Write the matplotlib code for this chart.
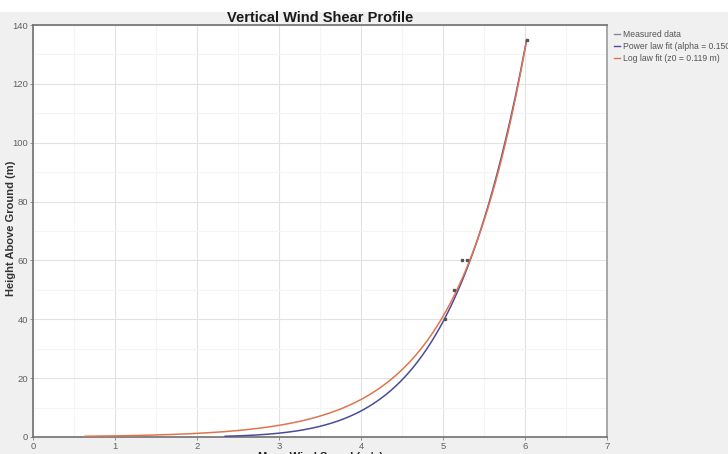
import numpy as np
import matplotlib
matplotlib.use("Agg")
import matplotlib.pyplot as plt
from matplotlib.lines import Line2D
from matplotlib.patches import Rectangle

plt.rcParams["font.family"] = ["Liberation Sans", "DejaVu Sans"]

# Measured mean wind speeds at each sensor height
heights_m = [40, 50, 60, 60, 135]
speeds_ms = [5.02, 5.13, 5.23, 5.29, 6.02]

# Fitted profile parameters
alpha = 0.15          # power-law shear exponent
z0 = 0.119            # log-law roughness length (m)
z_ref = 135.0         # reference height (m)
v_ref = 6.02          # speed at reference height (m/s)
z_min = 0.25          # lowest height drawn for the fitted curves

title = "Vertical Wind Shear Profile"
xlabel = "Mean Wind Speed (m/s)"
ylabel = "Height Above Ground (m)"
legend_labels = ["Measured data",
                 "Power law fit (alpha = 0.150)",
                 "Log law fit (z0 = 0.119 m)"]
xticks = [0, 1, 2, 3, 4, 5, 6, 7]
yticks = [0, 20, 40, 60, 80, 100, 120, 140]

W, H = 728, 454
fig = plt.figure(figsize=(W / 100, H / 100), dpi=100, facecolor="white")
fig.patches.append(Rectangle((0, 0), 1, 1 - 12 / H, transform=fig.transFigure,
                             facecolor="#f0f0f0", edgecolor="none", zorder=-10))

ax = fig.add_axes([33 / W, 17 / H, (607 - 33) / W, (437 - 25) / H])
ax.set_facecolor("white")

z = np.geomspace(z_min, z_ref, 400)
v_power = v_ref * (z / z_ref) ** alpha
v_log = v_ref * np.log(z / z0) / np.log(z_ref / z0)

ax.plot(v_power, z, color="#4b4b9c", lw=1.1, zorder=3)
ax.plot(v_log, z, color="#e2734f", lw=1.1, zorder=4)
ax.plot(speeds_ms, heights_m, linestyle="none", marker="s", ms=1.8,
        color="#555555", zorder=5)

ax.set_xlim(0, 7)
ax.set_ylim(0, 140)
ax.set_xticks(xticks)
ax.set_yticks(yticks)
ax.set_xticks(np.arange(0, 7.01, 0.5), minor=True)
ax.set_yticks(np.arange(0, 140.1, 10), minor=True)
ax.grid(which="major", color="#e2e2e2", lw=0.8)
ax.grid(which="minor", color="#f4f4f4", lw=0.8)
ax.set_axisbelow(True)
ax.tick_params(which="both", direction="out", length=2, width=0.6,
               colors="#808080", labelcolor="#606060", labelsize=6.8, pad=1.5)
ax.tick_params(which="minor", length=0)
for side, sp in ax.spines.items():
    sp.set_color("#707070" if side in ("top", "left", "bottom") else "#9a9a9a")
    sp.set_linewidth(1.2)

ax.set_title(title, fontsize=10.5, fontweight="bold", color="#1a1a1a", pad=1.5)
ax.set_xlabel(xlabel, fontsize=8, fontweight="bold", color="#222222", labelpad=1)
fig.text(11 / W, 1 - 228 / H, ylabel, rotation=90, ha="center", va="center",
         fontsize=8, fontweight="bold", color="#333333")

handles = [Line2D([], [], color="#8a8a8a", lw=1.0),
           Line2D([], [], color="#4b4b9c", lw=1.0),
           Line2D([], [], color="#e2734f", lw=1.0)]
fig.legend(handles, legend_labels, loc="upper left",
           bbox_to_anchor=(611 / W, 1 - 27 / H), frameon=False,
           fontsize=6.2, labelcolor="#555555", handlelength=0.6,
           handletextpad=0.4, labelspacing=0.3, borderaxespad=0)

fig.savefig("out.png", dpi=100, facecolor=fig.get_facecolor())
